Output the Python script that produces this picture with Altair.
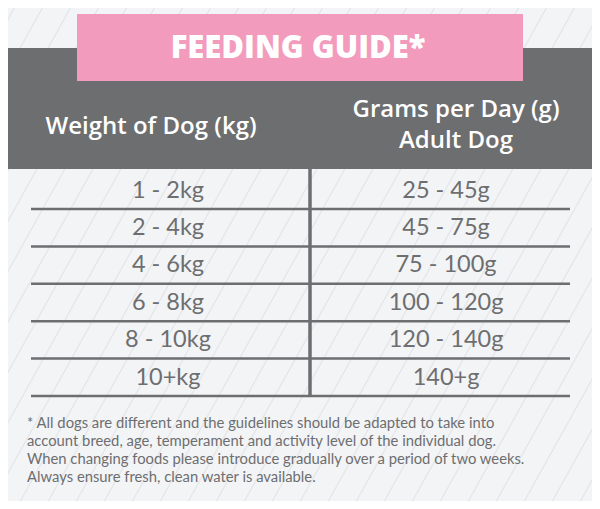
import altair as alt
import numpy as np
import pandas as pd

# ---- data ----
title = "FEEDING GUIDE*"
col_headers = ["Weight of Dog (kg)", "Grams per Day (g)", "Adult Dog"]
weights = ["1 - 2kg", "2 - 4kg", "4 - 6kg", "6 - 8kg", "8 - 10kg", "10+kg"]
grams = ["25 - 45g", "45 - 75g", "75 - 100g", "100 - 120g", "120 - 140g", "140+g"]
footnote = [
    "* All dogs are different and the guidelines should be adapted to take into",
    "account breed, age, temperament and activity level of the individual dog.",
    "When changing foods please introduce gradually over a period of two weeks.",
    "Always ensure fresh, clean water is available.",
]

# ---- layout (pixel-like coordinate space of the 600x509 page) ----
W, H = 600, 509
GREY = "#6d6e70"
PINK = "#f39bbd"
BG = "#f3f4f6"
FONT = "Lato"
HFONT = "Open Sans"

xs = alt.Scale(domain=[8, W - 8])
ys = alt.Scale(domain=[8, H - 8], reverse=True)

def X(f="x"):
    return alt.X(f"{f}:Q", scale=xs, axis=None)

def Y(f="y"):
    return alt.Y(f"{f}:Q", scale=ys, axis=None)

# background stripes (decoration)
starts = np.arange(-320, W + 40, 28)
slope = 1.8
stripes = pd.DataFrame({"x": starts, "y": H, "x2": starts + H / slope, "y2": 0})
stripe_layer = alt.Chart(stripes).mark_rule(color="#e4e5e8", strokeWidth=1.2, clip=True).encode(
    x=X(), y=Y(), x2="x2:Q", y2="y2:Q")

# header band and pink box
boxes = pd.DataFrame({
    "x": [0, 77], "x2": [W, 523], "y": [48, 14], "y2": [169, 81], "c": [GREY, PINK]})
box_layer = alt.Chart(boxes).mark_rect(clip=True).encode(
    x=X(), x2="x2:Q", y=Y(), y2="y2:Q", color=alt.Color("c:N", scale=None))

title_layer = alt.Chart(pd.DataFrame({"t": [title], "x": [298], "y": [49]})).mark_text(
    font=HFONT, fontSize=31, fontWeight=800, color="white", align="center", baseline="middle"
).encode(x=X(), y=Y(), text="t:N")

hdr = pd.DataFrame({"t": col_headers, "x": [151, 456, 456], "y": [127, 110, 141]})
hdr_layer = alt.Chart(hdr).mark_text(
    font=HFONT, fontSize=24, fontWeight=600, color="white", align="center", baseline="middle"
).encode(x=X(), y=Y(), text="t:N")

# rows
n = len(weights)
row_idx = np.arange(n)
line_y = 209 + row_idx * 37.4
text_y = line_y - 18.5
rows = pd.DataFrame({
    "w": weights, "g": grams, "y": text_y,
    "xw": 168, "xg": 446,
})
w_layer = alt.Chart(rows).mark_text(
    font=FONT, fontSize=23.5, color=GREY, align="center", baseline="middle"
).encode(x=X("xw"), y=Y(), text="w:N")
g_layer = alt.Chart(rows).mark_text(
    font=FONT, fontSize=23.5, color=GREY, align="center", baseline="middle"
).encode(x=X("xg"), y=Y(), text="g:N")

hlines = pd.DataFrame({"x": 31, "x2": 570, "y": line_y})
hline_layer = alt.Chart(hlines).mark_rule(color=GREY, strokeWidth=2.5).encode(
    x=X(), x2="x2:Q", y=Y())
vline = pd.DataFrame({"x": [310], "y": [169], "y2": [line_y[-1] + 1]})
vline_layer = alt.Chart(vline).mark_rule(color=GREY, strokeWidth=3.5).encode(
    x=X(), y=Y(), y2="y2:Q")

fn = pd.DataFrame({"t": footnote, "x": 27, "y": 424 + np.arange(len(footnote)) * 18})
fn_layer = alt.Chart(fn).mark_text(
    font=FONT, fontSize=14.8, color=GREY, align="left", baseline="middle"
).encode(x=X(), y=Y(), text="t:N")

chart = alt.layer(
    stripe_layer, box_layer, title_layer, hdr_layer,
    hline_layer, vline_layer, w_layer, g_layer, fn_layer,
).properties(
    width=W - 16, height=H - 16, padding=0, background=BG,
    autosize=alt.AutoSizeParams(type="none"),
).configure_view(stroke=None)

chart.save("out.html", embed_options={"renderer": "svg", "actions": False})
